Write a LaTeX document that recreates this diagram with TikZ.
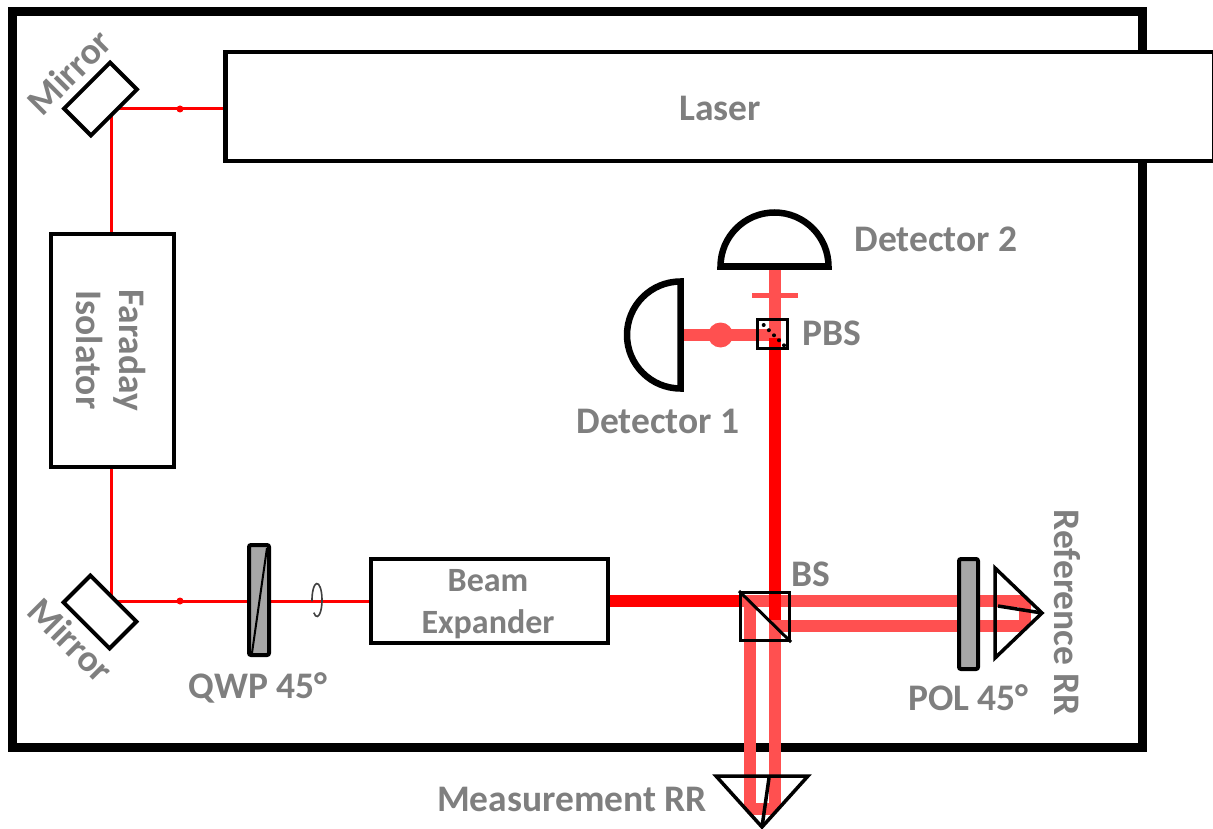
\documentclass[tikz,border=0pt]{standalone}
\usepackage{fontspec}
\setmainfont{Carlito}
\usetikzlibrary{positioning}
\definecolor{labelgray}{HTML}{7F7F7F}
\definecolor{beamlight}{HTML}{FF5050}
\definecolor{platefill}{HTML}{A6A6A6}
\tikzset{
  labeltext/.style={text=labelgray,font=\fontsize{37.5}{43}\selectfont\bfseries,align=center,inner sep=0pt},
  smalltext/.style={labeltext,font=\fontsize{34}{40}\selectfont\bfseries},
  boxpart/.style={draw=black,line width=4pt,fill=white,inner sep=0pt},
  mirrorpart/.style={boxpart,minimum width=65pt,minimum height=38pt},
  platepart/.style={draw=black,line width=4pt,fill=platefill,rounded corners=2pt,inner sep=0pt},
  thinbeam/.style={draw=red,line width=3pt},
  thickbeam/.style={draw=red,line width=12.5pt},
  softbeam/.style={draw=beamlight,line width=12pt},
  cubepart/.style={draw=black,line width=3.4pt,inner sep=0pt},
  detectorpart/.style={draw=black,line width=6.5pt,fill=white,miter limit=2},
  prismpart/.style={draw=black,line width=3.5pt}
}
\begin{document}
\begin{tikzpicture}[x=1pt,y=-1pt]
\useasboundingbox (0,0) rectangle (1213,829);
% housing
\draw[line width=9pt] (12,12) rectangle (1142,747);
% nodes
\node[boxpart,line width=4.5pt,minimum width=988.5pt,minimum height=109pt] (laser) at (719.75,106.5) {};
\node[labeltext] (laserlabel) at (720,108) {Laser};
\node[boxpart,minimum width=122.5pt,minimum height=232pt] (faraday) at (112.25,350.5) {};
\node[labeltext,rotate=-90] (faradaylabel) at (111,350) {Faraday\\Isolator};
\node[boxpart,minimum width=237pt,minimum height=84pt] (expander) at (489,600.5) {};
\node[smalltext] (beamlabel) at (488,581) {Beam};
\node[smalltext] (expanderlabel) at (488,624) {Expander};
\coordinate (turntop) at (111,109);
\coordinate (turnbot) at (111,601);
\coordinate (dettwo) at (775,266);
\coordinate (detone) at (681,335);
% thin beam
\draw[thinbeam] (turntop -| laser.west) -- (turntop) -- (turntop |- faraday.north);
\draw[thinbeam] (turnbot |- faraday.south) -- (turnbot) -- (turnbot -| expander.west);
\fill[red] (180,109) circle (3.5pt);
\fill[red] (180,601) circle (3.5pt);
\draw[line width=1.6pt,black!75] (317,600) ++(185:5pt and 16.5pt) arc[start angle=185,end angle=-130,x radius=5pt,y radius=16.5pt];
\node[mirrorpart,rotate=45] (mirrortop) at (100.5,99) {};
\node[mirrorpart,rotate=-45] (mirrorbot) at (100,612) {};
\node[labeltext,rotate=45] (mirrortoplabel) at (69,72) {Mirror};
\node[labeltext,rotate=-45] (mirrorbotlabel) at (71,640) {Mirror};
% plates
\node[platepart,minimum width=20pt,minimum height=110pt] (qwp) at (259,600) {};
\draw[line width=2pt] (267,548) -- (252,653);
\node[labeltext] (qwplabel) at (258,688) {QWP 45°};
% cubes
\coordinate (bscentre) at (765,616.5);
\coordinate (pbscentre) at (772.5,334);
\coordinate (rrtop) at (1025,601);
\coordinate (rrbot) at (1025,626);
\coordinate (rmtop) at (750,809);
\coordinate (rmbot) at (775,809);
% soft beams
\begin{scope}
\clip (0,0) -- (995,0) -- (995,568) -- (1042,613) -- (995,658) -- (995,776) -- (808,776) -- (762,827) -- (716,776) -- (0,776) -- cycle;
\draw[softbeam] (741,601) -- (rrtop) -- (rrbot) -- (781,626);
\draw[softbeam] (750,601) -- (rmtop) -- (rmbot) -- (775,620);
\end{scope}
\draw[softbeam] (dettwo) -- (775,339);
\draw[softbeam] (detone) -- (775,335);
\draw[beamlight,line width=5pt] (752,295.5) -- (798,295.5);
\fill[beamlight] (720.5,335) circle (12.5pt);
% thick beam
\draw[thickbeam] (expander.east |- turnbot) -- (741,601);
\draw[thickbeam] (775,620) -- (775,338);
% detectors
\draw[detectorpart] (720.5,266.5) arc[start angle=180,end angle=0,radius=54pt] -- cycle;
\draw[detectorpart] (680.5,281.5) arc[start angle=90,end angle=270,radius=53.5pt] -- cycle;
\node[labeltext] (dettwolabel) at (936,239) {Detector 2};
\node[labeltext] (detonelabel) at (658,421) {Detector 1};
% beamsplitters
\node[cubepart,minimum width=29.6pt,minimum height=28.6pt] (pbs) at (pbscentre) {};
\foreach \dotx/\doty in {763.7/325,768.9/330.2,774/335.3,779/340.3,784/345.3}
  \fill (\dotx,\doty) circle (2pt);
\node[labeltext] (pbslabel) at (832,333) {PBS};
\node[cubepart,minimum width=48.6pt,minimum height=47.6pt] (bs) at (bscentre) {};
\draw[line width=3pt] (bs.north west) -- (bs.south east);
\node[labeltext] (bslabel) at (811,574) {BS};
% polarizer
\node[platepart,minimum width=19pt,minimum height=110pt] (pol) at (968.5,614) {};
\node[labeltext] (pollabel) at (968.5,698) {POL 45°};
% retroreflectors
\draw[prismpart] (995,568) -- (1042,613) -- (995,658) -- cycle;
\draw[prismpart] (998,606) -- (1042,613);
\node[labeltext,rotate=-90] (reflabel) at (1067,613) {Reference RR};
\draw[prismpart] (716,776) -- (808,776) -- (762,827) -- cycle;
\draw[prismpart] (769,778) -- (762,827);
\node[labeltext] (measlabel) at (572,799) {Measurement RR};
\end{tikzpicture}
\end{document}
